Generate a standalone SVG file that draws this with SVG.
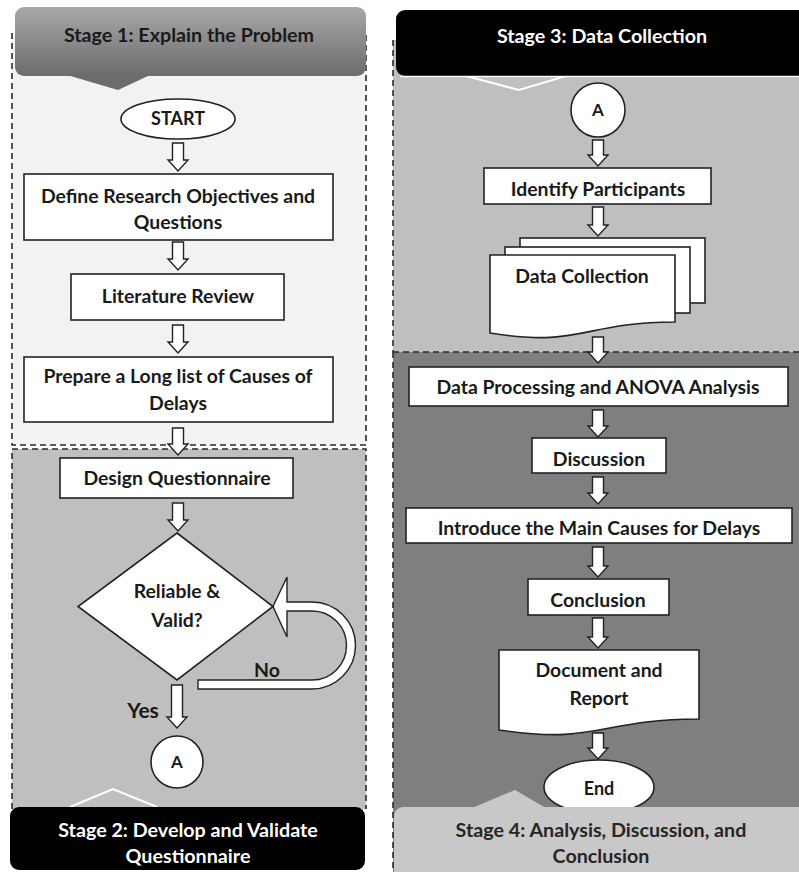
<svg xmlns="http://www.w3.org/2000/svg" width="799" height="872" viewBox="0 0 799 872">
<style>
text{font-family:Lato,"Open Sans","Liberation Sans",sans-serif;font-weight:bold;font-size:19.4px;text-anchor:middle;fill:#1a1a1a}
.box{fill:#fff;stroke:#222;stroke-width:1.6}
.arr{fill:#fff;stroke:#222;stroke-width:1.4;stroke-linejoin:miter}
.dash{fill:none;stroke:#2a2a2a;stroke-width:1.6;stroke-dasharray:6 4}
.wt{fill:#fff}
.hd{font-size:19.7px}
.sm{font-size:18px}
</style>
<defs>
<linearGradient id="g1" x1="0" y1="0" x2="0" y2="1">
<stop offset="0" stop-color="#a8a8a8"/>
<stop offset="1" stop-color="#6c6c6c"/>
</linearGradient>
<clipPath id="c1"><rect x="484" y="168" width="227" height="32"/></clipPath>
<clipPath id="c2"><rect x="406" y="508" width="386" height="30"/></clipPath>
</defs>

<g id="stage1-region">
<rect x="12" y="33" width="354" height="412" fill="#f2f2f2"/>
<path class="dash" d="M12,33 V445 H366 V33"/>
</g>
<g id="stage2-region">
<rect x="12" y="449" width="354" height="360" fill="#bfbfbf"/>
<path class="dash" d="M12,809 V449 H366 V809"/>
</g>
<g id="stage3-region">
<rect x="393" y="40" width="406" height="312" fill="#bfbfbf"/>
<path class="dash" d="M393,40 V352"/>
</g>
<g id="stage4-region">
<rect x="393" y="352" width="406" height="520" fill="#7f7f7f"/>
<path class="dash" d="M393,352 V872 M393,352 H799"/>
</g>

<g id="stage1-header">
<path d="M67,75 L118,90 L150,75 Z" fill="#6c6c6c"/>
<rect x="15" y="7" width="351" height="69" rx="9" fill="url(#g1)"/>
<text x="189" y="42" class="hd">Stage 1: Explain the Problem</text>
</g>

<g id="stage3-header">
<path d="M466,76 L519,90 L566,76" fill="#bfbfbf" stroke="#fff" stroke-width="2"/>
<path d="M396,19 A9,9 0 0 1 405,10 H816 V76 H405 A9,9 0 0 1 396,67 Z" fill="#000"/>
<path d="M400,76.5 H816" stroke="#fff" stroke-width="1.5"/>
<text x="602" y="43" class="hd wt">Stage 3: Data Collection</text>
</g>

<g id="connectors">
<polygon class="arr" points="172.5,143 183.5,143 183.5,160 188,160 178,171 168,160 172.5,160"/>
<polygon class="arr" points="172.5,242 183.5,242 183.5,259 188,259 178,270 168,259 172.5,259"/>
<polygon class="arr" points="172.5,325 183.5,325 183.5,342 188,342 178,353 168,342 172.5,342"/>
<polygon class="arr" points="172.5,428 183.5,428 183.5,444 188,444 178,455 168,444 172.5,444"/>
<polygon class="arr" points="172.5,503 183.5,503 183.5,520 188,520 178,531 168,520 172.5,520"/>
<polygon class="arr" points="171.5,685 182.5,685 182.5,717 187,717 177,728 167,717 171.5,717"/>
<path class="arr" d="M198,680 H312 A34.5,34.5 0 0 0 312,611 H287 V637 L273,606.5 L287,577 V602 H312 A43.5,43.5 0 0 1 312,689 H198 Z"/>
<polygon class="arr" points="592.5,140 603.5,140 603.5,155 608,155 598,166 588,155 592.5,155"/>
<polygon class="arr" points="592.5,207 603.5,207 603.5,225 608,225 598,236 588,225 592.5,225"/>
<polygon class="arr" points="592.5,337 603.5,337 603.5,352 608,352 598,363 588,352 592.5,352"/>
<polygon class="arr" points="592.5,410 603.5,410 603.5,426 608,426 598,437 588,426 592.5,426"/>
<polygon class="arr" points="592.5,477 603.5,477 603.5,493 608,493 598,504 588,493 592.5,493"/>
<polygon class="arr" points="592.5,547 603.5,547 603.5,566 608,566 598,577 588,566 592.5,566"/>
<polygon class="arr" points="592.5,618 603.5,618 603.5,637 608,637 598,648 588,637 592.5,637"/>
<polygon class="arr" points="592.5,733 603.5,733 603.5,748 608,748 598,759 588,748 592.5,748"/>
<text x="267" y="677" style="font-size:19.5px">No</text>
<text x="143" y="718" style="font-size:21px">Yes</text>
</g>

<g id="start">
<ellipse class="box" cx="178" cy="119" rx="57" ry="20"/>
<text x="178" y="125" class="sm">START</text>
</g>
<g id="define-objectives">
<rect class="box" x="24" y="174" width="309" height="66"/>
<text x="178" y="203">Define Research Objectives and</text>
<text x="178" y="229">Questions</text>
</g>
<g id="literature-review">
<rect class="box" x="71" y="274" width="213" height="46"/>
<text x="178" y="303">Literature Review</text>
</g>
<g id="long-list">
<rect class="box" x="24" y="357" width="309" height="65"/>
<text x="178" y="383">Prepare a Long list of Causes of</text>
<text x="178" y="410">Delays</text>
</g>
<g id="design-questionnaire">
<rect class="box" x="60" y="458" width="233" height="40"/>
<text x="177" y="485">Design Questionnaire</text>
</g>
<g id="reliable-valid">
<polygon class="box" points="177,533 273,606.5 177,680 78,606.5"/>
<text x="177" y="598">Reliable &amp;</text>
<text x="177" y="627">Valid?</text>
</g>
<g id="connector-a1">
<circle class="box" cx="177" cy="762" r="26"/>
<text x="177" y="768" style="font-size:17px">A</text>
</g>

<g id="stage2-header">
<path d="M70,807 L113,789 L157,807" fill="#bfbfbf" stroke="#fff" stroke-width="2"/>
<rect x="10" y="807" width="355" height="63" rx="9" fill="#000"/>
<text x="188" y="837" class="hd wt">Stage 2: Develop and Validate</text>
<text x="188" y="863" class="hd wt">Questionnaire</text>
</g>

<g id="connector-a2">
<circle class="box" cx="598" cy="110" r="27"/>
<text x="598" y="116" style="font-size:17px">A</text>
</g>
<g id="identify-participants">
<rect class="box" x="484" y="168" width="227" height="36"/>
<text x="598" y="196" clip-path="url(#c1)">Identify Participants</text>
</g>
<g id="data-collection">
<rect class="box" x="520" y="238" width="185" height="65"/>
<rect class="box" x="505" y="247" width="185" height="66"/>
<path class="box" d="M490,255 H675 V322 C582,322 582,348 490,333 Z"/>
<text x="582" y="283">Data Collection</text>
</g>
<g id="data-processing">
<rect class="box" x="409" y="367" width="379" height="39"/>
<text x="598" y="394">Data Processing and ANOVA Analysis</text>
</g>
<g id="discussion">
<rect class="box" x="532" y="438" width="134" height="35"/>
<text x="599" y="466">Discussion</text>
</g>
<g id="main-causes">
<rect class="box" x="406" y="508" width="386" height="35"/>
<text x="599" y="535" clip-path="url(#c2)">Introduce the Main Causes for Delays</text>
</g>
<g id="conclusion">
<rect class="box" x="528" y="579" width="141" height="36"/>
<text x="598" y="607">Conclusion</text>
</g>
<g id="document-report">
<path class="box" d="M499,650 H699 V719 C599,719 599,745 499,730 Z"/>
<text x="599" y="677">Document and</text>
<text x="599" y="705">Report</text>
</g>
<g id="end">
<ellipse class="box" cx="599" cy="787" rx="55" ry="27"/>
<text x="599" y="795" class="sm">End</text>
</g>

<g id="stage4-header">
<path d="M472,808 L515,790 L546,808 Z" fill="#c8c8c8"/>
<rect x="394" y="807" width="420" height="75" rx="9" fill="#c8c8c8"/>
<text x="601" y="837" class="hd" style="fill:#262626">Stage 4: Analysis, Discussion, and</text>
<text x="601" y="863" class="hd" style="fill:#262626">Conclusion</text>
</g>
</svg>
